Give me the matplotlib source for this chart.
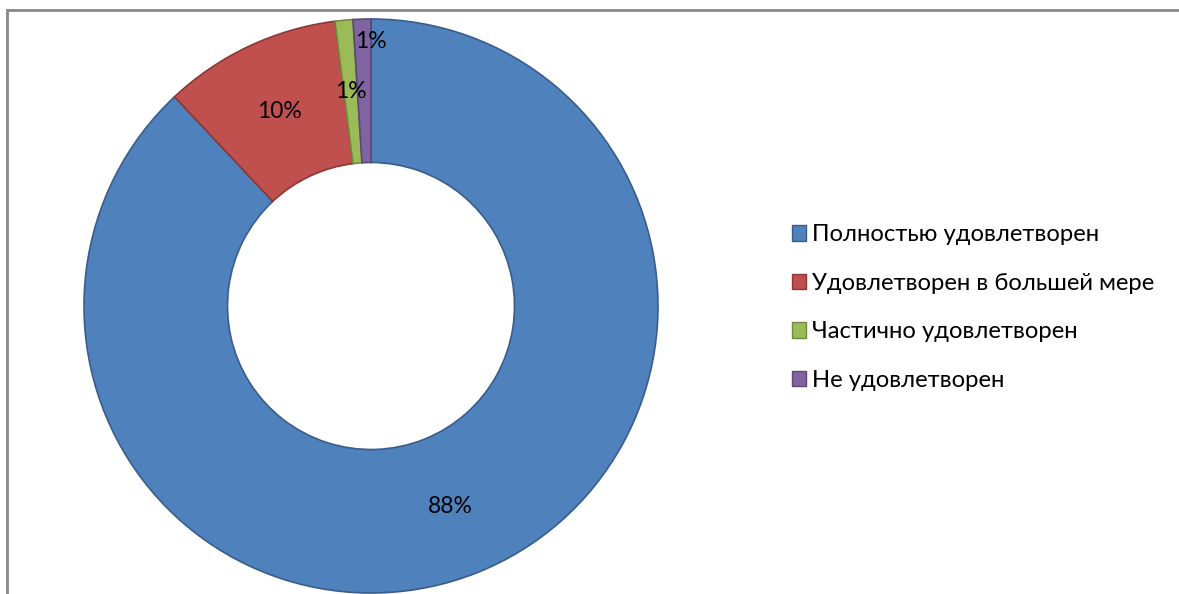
import numpy as np
import matplotlib
matplotlib.use('Agg')
import matplotlib.pyplot as plt
from matplotlib.patches import Patch, Rectangle

labels = ['Полностью удовлетворен', 'Удовлетворен в большей мере',
          'Частично удовлетворен', 'Не удовлетворен']
values = [88, 10, 1, 1]
pct_text = ['88%', '10%', '1%', '1%']

colors = ['#4F81BD', '#C0504D', '#9BBB59', '#8064A2']
edges = ['#385D8A', '#8C3836', '#71893F', '#5C4776']

plt.rcParams['font.family'] = ['Lato', 'DejaVu Sans']

fig = plt.figure(figsize=(11.79, 5.94), dpi=100)

# рамка области диаграммы
fig.patches.append(Rectangle((7 / 1179, -0.1), 1.2, 1 - 10 / 594 + 0.1,
                             transform=fig.transFigure, fill=False,
                             edgecolor='#888888', linewidth=2))

ax = fig.add_axes([84 / 1179, 1 / 594, 574 / 1179, 574 / 594])
wedges, _ = ax.pie(values, colors=colors, startangle=90, counterclock=False,
                   radius=1, wedgeprops=dict(width=0.5, linewidth=1.2))
for w, ec in zip(wedges, edges):
    w.set_edgecolor(ec)

# подписи долей
total = sum(values)
start = 90.0
for i, v in enumerate(values):
    ang = start - v / total * 360 / 2
    r = 0.75
    if i == len(values) - 1:
        ang = 90.0
        r = 0.92
    ax.text(r * np.cos(np.radians(ang)), r * np.sin(np.radians(ang)),
            pct_text[i], ha='center', va='center', fontsize=16.5, color='black')
    start -= v / total * 360

ax.set_xlim(-1, 1)
ax.set_ylim(-1, 1)
ax.set_aspect('equal')
ax.axis('off')

handles = [Patch(facecolor=c, edgecolor=e, linewidth=1) for c, e in zip(colors, edges)]
fig.legend(handles, labels, loc='center left', bbox_to_anchor=(782 / 1179, 1 - 307.5 / 594),
           frameon=False, fontsize=17.2, handlelength=0.62, handleheight=0.62,
           handletextpad=0.25, labelspacing=1.15, borderaxespad=0)

fig.savefig('out.png', dpi=100, facecolor='white')
